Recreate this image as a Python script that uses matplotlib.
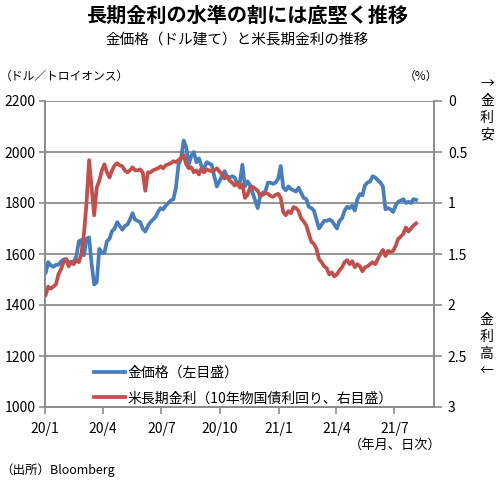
import matplotlib
matplotlib.use("Agg")
import matplotlib.pyplot as plt
import pandas as pd

plt.rcParams['font.family'] = ['Noto Sans CJK JP', 'DejaVu Sans']

# ---- data (sampled every 4 days from 2020-01-02) ----
start_date = "2020-01-02"
gold = [
    1527, 1568, 1555, 1550, 1557, 1558, 1570, 1578,
    1580, 1565, 1570, 1568, 1590, 1650, 1655,
    1595, 1660, 1665, 1560, 1480, 1490, 1620, 1605,
    1605, 1650, 1660, 1690, 1700, 1725, 1710,
    1695, 1710, 1715, 1735, 1760, 1735, 1730, 1725,
    1700, 1688, 1710, 1725, 1735, 1745, 1765, 1780,
    1775, 1790, 1800, 1810, 1815, 1860, 1950,
    1975, 2045, 2020, 1950, 1985, 2000, 1960, 1975,
    1945, 1935, 1960, 1955, 1950, 1905, 1865, 1885,
    1905, 1925, 1905, 1900, 1905, 1900, 1875,
    1880, 1950, 1865, 1885, 1870, 1840, 1810, 1780,
    1830, 1840, 1845, 1880, 1880, 1875, 1880, 1895,
    1945, 1860, 1850, 1865, 1855, 1850, 1845,
    1860, 1840, 1820, 1815, 1785, 1780, 1770,
    1735, 1700, 1715, 1730, 1730, 1735, 1730, 1715,
    1700, 1730, 1740, 1770, 1785, 1780, 1790,
    1770, 1815, 1835, 1830, 1870, 1880, 1885, 1905,
    1900, 1890, 1880, 1865, 1775, 1780, 1775, 1765,
    1790, 1805, 1810, 1815, 1800, 1805, 1800,
    1815, 1812,
]
yield10 = [
    1.90, 1.82, 1.84, 1.82, 1.80, 1.70, 1.65, 1.58,
    1.55, 1.62, 1.58, 1.60, 1.56, 1.58, 1.50,
    1.30, 1.00, 0.58, 0.85, 1.12, 0.85, 0.78, 0.68,
    0.62, 0.70, 0.75, 0.68, 0.63, 0.61, 0.63,
    0.64, 0.68, 0.70, 0.68, 0.65, 0.68, 0.68, 0.67,
    0.70, 0.88, 0.70, 0.70, 0.68, 0.67, 0.66, 0.64,
    0.66, 0.63, 0.62, 0.61, 0.59, 0.60, 0.58,
    0.56, 0.53, 0.62, 0.66, 0.65, 0.70, 0.68, 0.72,
    0.66, 0.70, 0.67, 0.68, 0.69, 0.68, 0.66, 0.69,
    0.72, 0.76, 0.74, 0.78, 0.80, 0.83, 0.80,
    0.85, 0.82, 0.95, 0.92, 0.85, 0.84, 0.86, 0.88,
    0.93, 0.92, 0.90, 0.91, 0.93, 0.94, 0.92, 0.91,
    0.95, 1.09, 1.12, 1.08, 1.10, 1.04, 1.05,
    1.08, 1.15, 1.18, 1.22, 1.30, 1.38, 1.40,
    1.45, 1.55, 1.58, 1.62, 1.64, 1.70, 1.68, 1.72,
    1.70, 1.66, 1.63, 1.58, 1.56, 1.60, 1.57,
    1.63, 1.60, 1.62, 1.67, 1.63, 1.62, 1.60, 1.58,
    1.60, 1.55, 1.50, 1.46, 1.52, 1.47, 1.48, 1.47,
    1.42, 1.35, 1.33, 1.30, 1.24, 1.28, 1.25,
    1.22, 1.20,
]
xtick_dates = ["2020-01-01", "2020-04-01", "2020-07-01", "2020-10-01",
               "2021-01-01", "2021-04-01", "2021-07-01"]
xtick_labels = ["20/1", "20/4", "20/7", "20/10", "21/1", "21/4", "21/7"]
left_ticks = [1000, 1200, 1400, 1600, 1800, 2000, 2200]
right_ticks = [0, 0.5, 1, 1.5, 2, 2.5, 3]
right_labels = ["0", "0.5", "1", "1.5", "2", "2.5", "3"]
label_gold = "金価格（左目盛）"
label_yield = "米長期金利（10年物国債利回り、右目盛）"
top_note = ["→", "金", "利", "安"]
bottom_note = ["金", "利", "高", "←"]

dates = pd.date_range(start_date, periods=len(gold), freq="4D")

BLUE = "#4a7ebb"
RED = "#c0504d"
GRID = "#8c8c8c"

W, H = 500, 482
fig = plt.figure(figsize=(W / 100, H / 100), dpi=100)
ax = fig.add_axes([45 / W, 1 - 407 / H, 389 / W, 306 / H])
ax2 = ax.twinx()

l1, = ax.plot(dates, gold, color=BLUE, lw=2.7, solid_joinstyle="round", zorder=3)
l2, = ax2.plot(dates, yield10, color=RED, lw=2.7, solid_joinstyle="round", zorder=3)

ax.set_ylim(1000, 2200)
ax.set_yticks(left_ticks)
ax2.set_ylim(3, 0)
ax2.set_yticks(right_ticks)
ax2.set_yticklabels(right_labels)
ax.set_xlim(pd.Timestamp("2020-01-01"), pd.Timestamp("2021-09-01"))
ax.set_xticks(pd.to_datetime(xtick_dates))
ax.set_xticklabels(xtick_labels)

ax.grid(axis="y", color=GRID, lw=1.3)
ax.set_axisbelow(True)
for a in (ax, ax2):
    a.spines["top"].set_visible(False)
    for s in ["left", "right", "bottom"]:
        a.spines[s].set_color(GRID)
        a.spines[s].set_linewidth(1.3)
ax.tick_params(axis="y", length=4, color=GRID, width=1.2, labelsize=10, pad=3)
ax.tick_params(axis="x", length=5, color=GRID, width=1.2, labelsize=10, pad=6)
ax2.tick_params(axis="y", length=6, color=GRID, width=1.2, labelsize=10, pad=4)

leg = ax.legend([l1, l2], [label_gold, label_yield], loc="lower left",
                bbox_to_anchor=(0.095, -0.035), frameon=False, fontsize=10,
                handlelength=2.2, handletextpad=0.15, labelspacing=0.85)

fig.text(0.494, 0.968, "長期金利の水準の割には底堅く推移", ha="center", va="center",
         fontsize=14.5, fontweight="bold")
fig.text(0.474, 0.917, "金価格（ドル建て）と米長期金利の推移", ha="center", va="center",
         fontsize=10.5)
fig.text(0.0, 0.842, "（ドル／トロイオンス）", ha="left", va="center", fontsize=8.5)
fig.text(0.842, 0.842, "（%）", ha="center", va="center", fontsize=8.5)
for i, ch in enumerate(top_note):
    fig.text(487 / W, 1 - (84 + i * 17) / H, ch, ha="center", va="center", fontsize=10)
for i, ch in enumerate(bottom_note):
    fig.text(486 / W, 1 - (320 + i * 17) / H, ch, ha="center", va="center", fontsize=10)
fig.text(0.79, 0.077, "（年月、日次）", ha="center", va="center", fontsize=9.5)
fig.text(0.0, 0.025, "（出所）Bloomberg", ha="left", va="center", fontsize=9)

fig.savefig("out.png", dpi=100)
